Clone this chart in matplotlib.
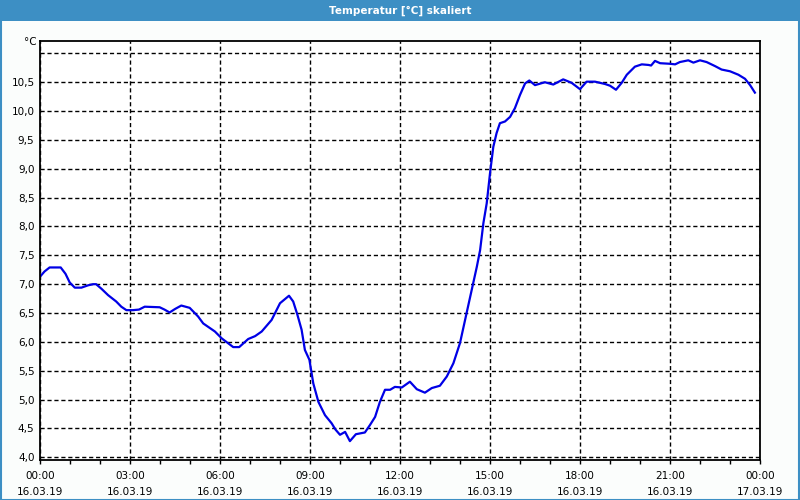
import matplotlib
matplotlib.use("Agg")
import matplotlib.pyplot as plt
from matplotlib.patches import Rectangle
from matplotlib.ticker import FixedLocator, MultipleLocator

# ---- data ----
hours = [0.0, 0.15, 0.32, 0.69, 0.85, 0.99, 1.16, 1.38, 1.6, 1.77, 1.87, 2.05, 2.27, 2.54,
         2.71, 2.88, 3.1, 3.3, 3.49, 3.99, 4.15, 4.32, 4.5, 4.71, 4.99, 5.27, 5.44, 5.83,
         6.06, 6.44, 6.64, 6.94, 7.17, 7.39, 7.72, 8.0, 8.3, 8.44, 8.58, 8.72, 8.83, 8.98,
         9.11, 9.28, 9.5, 9.72, 9.85, 10.0, 10.17, 10.33, 10.53, 10.83, 11.0, 11.17, 11.33,
         11.5, 11.67, 11.83, 12.06, 12.33, 12.56, 12.83, 13.06, 13.33, 13.56, 13.78, 14.0,
         14.22, 14.39, 14.56, 14.67, 14.78, 14.89, 15.0, 15.11, 15.22, 15.33, 15.5, 15.67,
         15.83, 16.0, 16.17, 16.31, 16.5, 16.83, 17.11, 17.44, 17.72, 18.0, 18.22, 18.5,
         18.83, 19.0, 19.2, 19.39, 19.56, 19.83, 20.06, 20.28, 20.37, 20.5, 20.67, 21.0,
         21.17, 21.33, 21.61, 21.78, 22.0, 22.22, 22.5, 22.72, 23.0, 23.28, 23.5, 23.67, 23.83]
temps = [7.13, 7.22, 7.29, 7.29, 7.18, 7.03, 6.94, 6.94, 6.98, 7.00, 7.00, 6.92, 6.81, 6.70,
         6.61, 6.55, 6.55, 6.56, 6.61, 6.60, 6.56, 6.51, 6.57, 6.63, 6.59, 6.44, 6.32, 6.18,
         6.06, 5.91, 5.91, 6.05, 6.10, 6.18, 6.38, 6.67, 6.80, 6.70, 6.47, 6.21, 5.86, 5.69,
         5.28, 4.96, 4.73, 4.59, 4.48, 4.39, 4.44, 4.28, 4.40, 4.43, 4.56, 4.70, 4.96,
         5.17, 5.17, 5.22, 5.21, 5.31, 5.18, 5.12, 5.20, 5.24, 5.40, 5.63, 5.98,
         6.50, 6.90, 7.30, 7.59, 8.06, 8.40, 8.92, 9.38, 9.62, 9.79, 9.82, 9.90,
         10.05, 10.28, 10.48, 10.53, 10.45, 10.50, 10.46, 10.55, 10.49, 10.38, 10.51, 10.51,
         10.47, 10.44, 10.37, 10.49, 10.63, 10.77, 10.81, 10.80, 10.79, 10.87, 10.83, 10.82,
         10.81, 10.85, 10.88, 10.84, 10.88, 10.85, 10.78, 10.72, 10.69, 10.63, 10.56, 10.45, 10.32]

xtick_hours = [0, 3, 6, 9, 12, 15, 18, 21, 24]
xtick_labels = ["00:00\n16.03.19", "03:00\n16.03.19", "06:00\n16.03.19", "09:00\n16.03.19",
                "12:00\n16.03.19", "15:00\n16.03.19", "18:00\n16.03.19", "21:00\n16.03.19",
                "00:00\n17.03.19"]
ytick_values = [4.0, 4.5, 5.0, 5.5, 6.0, 6.5, 7.0, 7.5, 8.0, 8.5, 9.0, 9.5, 10.0, 10.5, 11.0]
ytick_labels = ["4,0", "4,5", "5,0", "5,5", "6,0", "6,5", "7,0", "7,5", "8,0", "8,5",
                "9,0", "9,5", "10,0", "10,5", ""]
title = "Temperatur [°C] skaliert"
unit = "°C"

plt.rcParams['font.family'] = ['DejaVu Sans']

fig = plt.figure(figsize=(8, 5), dpi=100)
fig.patch.set_facecolor("#fbfdfc")

# title bar and frame
fig.patches.append(Rectangle((0, 1 - 21 / 500), 1, 21 / 500, transform=fig.transFigure,
                             facecolor="#3d8fc4", edgecolor="none", zorder=0))
fig.patches.append(Rectangle((0.5 / 800, 0.5 / 500), 1 - 1.5 / 800, 1 - 1.5 / 500,
                             transform=fig.transFigure, facecolor="none",
                             edgecolor="#3d8fc4", linewidth=1.5, zorder=5))
fig.text(0.5, 1 - 10.5 / 500, title, color="white", fontweight="bold", fontsize=7.5,
         ha="center", va="center")

ax = fig.add_axes([40 / 800, 40 / 500, 720 / 800, (460 - 40.7) / 500])
ax.set_facecolor("white")
ax.plot(hours, temps, color="#0000e6", linewidth=1.6)

ax.set_xlim(0, 24)
ax.set_ylim(3.953, 11.22)

ax.xaxis.set_major_locator(FixedLocator(xtick_hours))
ax.set_xticklabels(xtick_labels, fontsize=7.5, linespacing=1.75)
ax.xaxis.set_minor_locator(MultipleLocator(1))
ax.tick_params(axis="x", which="both", direction="out", length=3, width=1, pad=5,
               colors="black")

ax.yaxis.set_major_locator(FixedLocator(ytick_values))
ax.set_yticklabels(ytick_labels, fontsize=7.5)
ax.tick_params(axis="y", length=0, pad=4)

ax.grid(True, which="major", color="black", linestyle=(0, (3, 2)), linewidth=1)
for s in ax.spines.values():
    s.set_linewidth(1.3)
    s.set_color("black")

ax.text(-0.1, 11.2, unit, transform=ax.transData, ha="right", va="center", fontsize=7.5)

fig.savefig("out.png", dpi=100, facecolor=fig.get_facecolor())
